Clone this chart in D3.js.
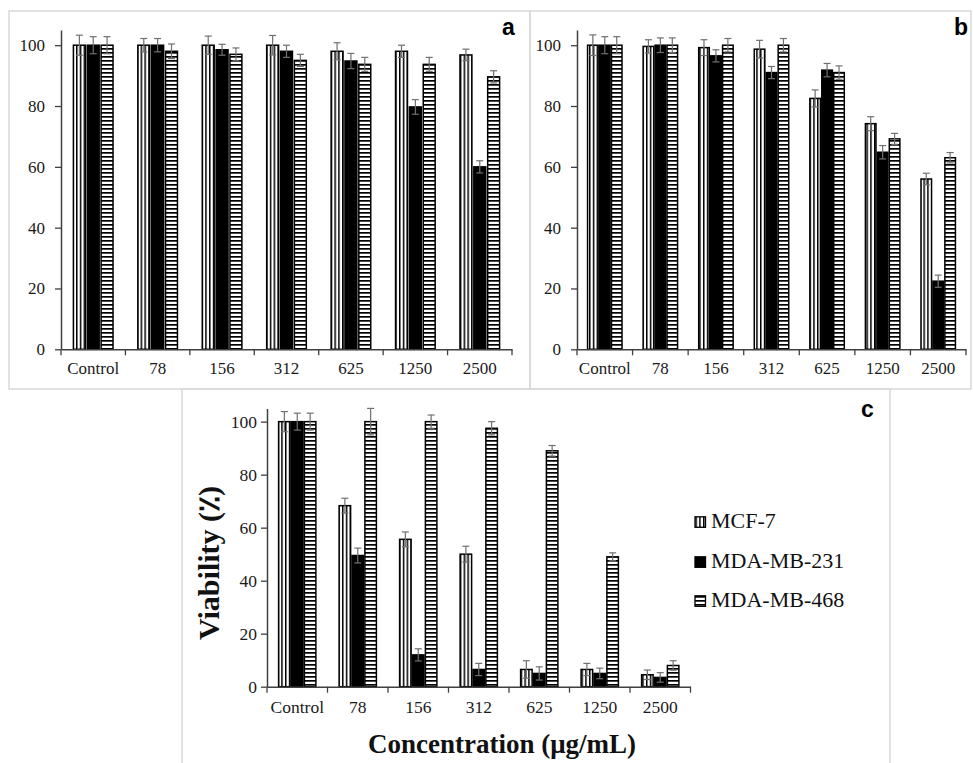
<!DOCTYPE html>
<html><head><meta charset="utf-8">
<script src="https://cdn.jsdelivr.net/npm/d3@7"></script>
<style>body{margin:0;background:#fff} svg{display:block} .serif{font-family:"Liberation Serif","Times New Roman",serif} .sans{font-family:"Liberation Sans",Arial,sans-serif}</style>
</head><body>
<script>
// ---------- DATA ----------
const categories = ["Control", "78", "156", "312", "625", "1250", "2500"];
const seriesNames = ["MCF-7", "MDA-MB-231", "MDA-MB-468"];
const yTicks = [0, 20, 40, 60, 80, 100];

// panel a
const aMCF7      = [100, 100, 100, 100, 98, 98, 96.8];
const aMDA231    = [100, 100, 98.5, 98, 94.8, 79.7, 60];
const aMDA468    = [100, 98, 97, 95, 93.7, 93.7, 89.6];
const aMCF7Err   = [3.3, 2.2, 3, 3.2, 2.8, 2, 1.9];
const aMDA231Err = [2.8, 2.2, 1.8, 2, 2.5, 2.4, 2];
const aMDA468Err = [2.8, 2.4, 2.1, 2, 2.3, 2.3, 2];

// panel b
const bMCF7      = [100, 99.6, 99.2, 98.7, 82.5, 74.2, 56];
const bMDA231    = [100, 100, 96.5, 91, 91.8, 64.8, 22.4];
const bMDA468    = [100, 100, 100, 100, 91, 69.2, 63];
const bMCF7Err   = [3.4, 2.2, 2.6, 2.9, 2.8, 2.3, 1.9];
const bMDA231Err = [2.8, 2.4, 2, 2, 2.2, 2.2, 2];
const bMDA468Err = [2.8, 2.4, 2.2, 2.2, 2.2, 1.8, 1.7];

// panel c
const cMCF7      = [100, 68.3, 55.6, 50, 6.5, 6.5, 4.5];
const cMDA231    = [100, 49.5, 12, 6.5, 5, 5, 3.5];
const cMDA468    = [100, 100, 100, 97.5, 89, 49, 8];
const cMCF7Err   = [3.8, 2.8, 2.8, 3, 3.3, 2.3, 1.8];
const cMDA231Err = [3.2, 2.8, 2.3, 2.3, 2.5, 2, 1.8];
const cMDA468Err = [3.2, 5, 2.5, 2.5, 2, 1.5, 1.8];

// ---------- DRAWING ----------
const W = 973, H = 763;
const svg = d3.select("body").append("svg").attr("width", W).attr("height", H);
const defs = svg.append("defs");

const pv = defs.append("pattern").attr("id", "vstripe").attr("patternUnits", "userSpaceOnUse")
  .attr("width", 3.8).attr("height", 10);
pv.append("rect").attr("width", 3.8).attr("height", 10).attr("fill", "#fff");
pv.append("rect").attr("x", 0).attr("width", 1.5).attr("height", 10).attr("fill", "#000");

const ph = defs.append("pattern").attr("id", "hstripe").attr("patternUnits", "userSpaceOnUse")
  .attr("width", 10).attr("height", 4);
ph.append("rect").attr("width", 10).attr("height", 4).attr("fill", "#fff");
ph.append("rect").attr("y", 0).attr("width", 10).attr("height", 1.7).attr("fill", "#000");

const fills = ["url(#vstripe)", "#000", "url(#hstripe)"];

// panel frames
const frame = svg.append("g").attr("fill", "none").attr("stroke", "#d9d9d9").attr("stroke-width", 1.5);
frame.append("rect").attr("x", 9).attr("y", 11).attr("width", 521).attr("height", 378);
frame.append("rect").attr("x", 530).attr("y", 11).attr("width", 441).attr("height", 378);
frame.append("rect").attr("x", 182).attr("y", 389).attr("width", 708).attr("height", 380);

function drawPanel(cfg) {
  const g = svg.append("g");
  const x = d3.scaleBand().domain(categories).range([cfg.x0, cfg.x1]).paddingInner(0).paddingOuter(0);
  const y = d3.scaleLinear().domain([0, 105]).range([cfg.y0, cfg.yTop]);
  const bw = x.bandwidth();
  const pitch = bw * cfg.pitch, barW = bw * cfg.barW;

  cfg.series.forEach((vals, si) => {
    const errs = cfg.errors[si];
    const sg = g.append("g");
    sg.selectAll("rect").data(vals).join("rect")
      .attr("x", (d, i) => x(categories[i]) + bw / 2 + (si - 1.5) * pitch + (pitch - barW) / 2)
      .attr("y", d => y(d))
      .attr("width", barW)
      .attr("height", d => y(0) - y(d))
      .attr("fill", fills[si])
      .attr("stroke", "#000").attr("stroke-width", 1.5);
    const eg = g.append("g").attr("stroke", "#707070").attr("stroke-width", 1.2);
    vals.forEach((v, i) => {
      const cx = x(categories[i]) + bw / 2 + (si - 1) * pitch;
      const top = y(v + errs[i]), bot = y(Math.max(0, v - errs[i]));
      eg.append("line").attr("x1", cx).attr("x2", cx).attr("y1", top).attr("y2", bot);
      eg.append("line").attr("x1", cx - 3.5).attr("x2", cx + 3.5).attr("y1", top).attr("y2", top);
      eg.append("line").attr("x1", cx - 3.5).attr("x2", cx + 3.5).attr("y1", bot).attr("y2", bot);
    });
  });

  // y axis
  const ya = g.append("g").attr("transform", `translate(${cfg.x0},0)`)
    .call(d3.axisLeft(y).tickValues(yTicks).tickSize(6).tickSizeOuter(0).tickPadding(cfg.yPad));
  ya.attr("font-family", null);
  ya.select(".domain").attr("stroke", "#404040").attr("stroke-width", 1.5);
  ya.selectAll(".tick line").attr("stroke", "#404040").attr("stroke-width", 1.3);
  ya.selectAll(".tick text").attr("class", "serif").attr("font-size", cfg.fs).attr("fill", "#1a1a1a");

  // x axis
  const xa = g.append("g").attr("transform", `translate(0,${cfg.y0})`)
    .call(d3.axisBottom(x).tickSize(0).tickSizeOuter(0).tickPadding(cfg.xPad));
  xa.attr("font-family", null);
  xa.select(".domain").attr("stroke", "#404040").attr("stroke-width", 1.5);
  xa.selectAll(".tick text").attr("class", "serif").attr("font-size", cfg.fs).attr("fill", "#1a1a1a");
  const bounds = categories.map(c => x(c)).concat([x.range()[1]]);
  xa.selectAll(".bt").data(bounds).join("line")
    .attr("x1", d => d).attr("x2", d => d).attr("y1", 0).attr("y2", 6)
    .attr("stroke", "#404040").attr("stroke-width", 1.3);

  g.append("text").attr("x", cfg.lx).attr("y", cfg.ly).text(cfg.letter).attr("class", "sans")
    .attr("font-weight", "bold").attr("font-size", 23).attr("fill", "#000");
}

drawPanel({x0: 61, x1: 512, y0: 349.3, yTop: 30, pitch: 0.215, barW: 0.185, yPad: 10, xPad: 13, fs: 17,
  series: [aMCF7, aMDA231, aMDA468], errors: [aMCF7Err, aMDA231Err, aMDA468Err], letter: "a", lx: 502, ly: 35});
drawPanel({x0: 577, x1: 966, y0: 349.3, yTop: 30, pitch: 0.215, barW: 0.19, yPad: 10, xPad: 13, fs: 17,
  series: [bMCF7, bMDA231, bMDA468], errors: [bMCF7Err, bMDA231Err, bMDA468Err], letter: "b", lx: 954, ly: 35});
drawPanel({x0: 267, x1: 690.5, y0: 686.7, yTop: 408.4, pitch: 0.213, barW: 0.19, yPad: 4, xPad: 14, fs: 17.5,
  series: [cMCF7, cMDA231, cMDA468], errors: [cMCF7Err, cMDA231Err, cMDA468Err], letter: "c", lx: 861, ly: 417});

// axis titles (panel c)
svg.append("text").attr("transform", "translate(219,563) rotate(-90)").attr("text-anchor", "middle")
  .attr("class", "serif").attr("font-weight", "bold").attr("font-size", 30).attr("fill", "#111")
  .text("Viability (٪)");
svg.append("text").attr("x", 368).attr("y", 753).attr("text-anchor", "start")
  .attr("class", "serif").attr("font-weight", "bold").attr("font-size", 27).attr("fill", "#111")
  .text("Concentration (μg/mL)");

// legend
const lg = svg.append("g");
const legY = [528.3, 568.3, 607.3];
seriesNames.forEach((s, i) => {
  lg.append("rect").attr("x", 695).attr("y", legY[i] - 11.5).attr("width", 10.5).attr("height", 10.5)
    .attr("fill", fills[i]).attr("stroke", "#000").attr("stroke-width", 1.3);
  lg.append("text").attr("x", 711).attr("y", legY[i]).text(s)
    .attr("class", "serif").attr("font-size", 22).attr("fill", "#111");
});
</script>
</body></html>
